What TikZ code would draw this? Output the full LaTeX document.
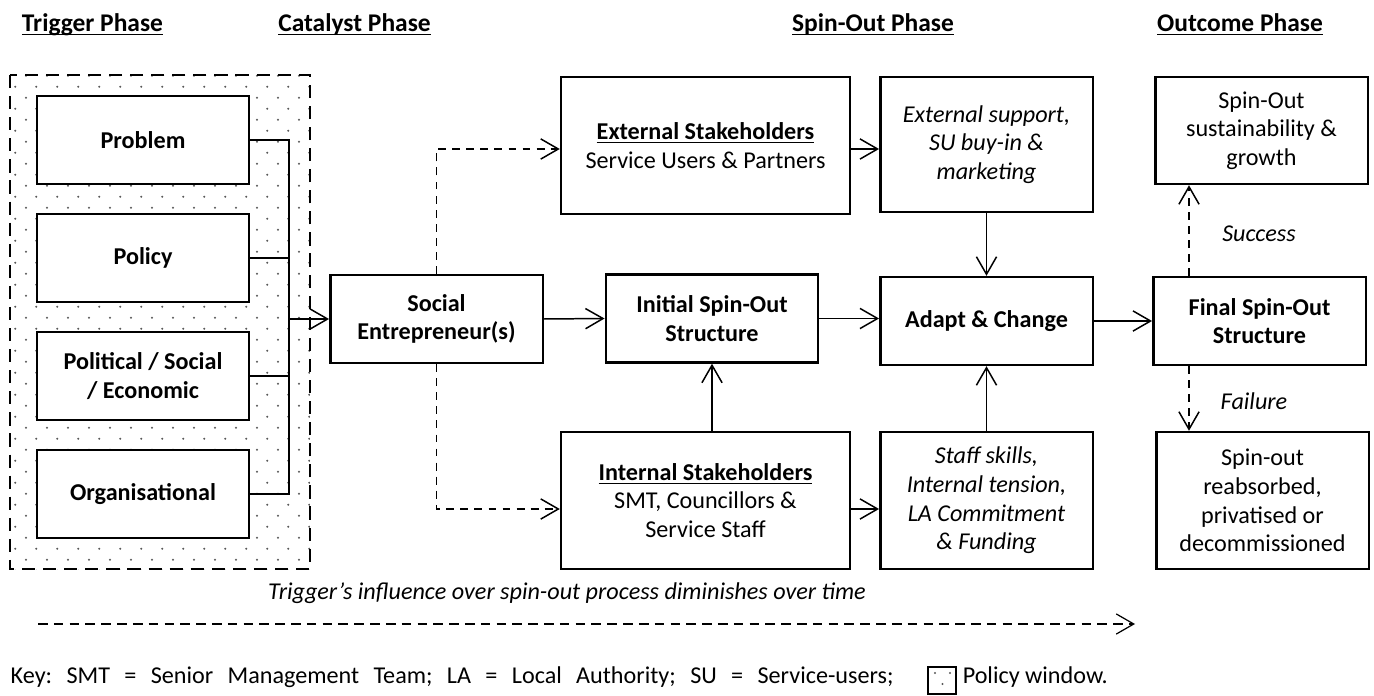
\documentclass[tikz,border=0pt]{standalone}
\usepackage{fontspec}
\setmainfont{Carlito}
\usetikzlibrary{arrows.meta}
\usetikzlibrary{calc,patterns}
\frenchspacing

% staggered dot grid for the policy window
\pgfdeclarepatternformonly{windowdots}{\pgfpointorigin}{\pgfpoint{12pt}{12.5pt}}{\pgfpoint{12pt}{12.5pt}}{%
  \pgfpathcircle{\pgfpoint{3pt}{3pt}}{0.65pt}%
  \pgfpathcircle{\pgfpoint{9pt}{9.25pt}}{0.65pt}%
  \pgfusepath{fill}}

\newcommand{\bodyfont}{\fontsize{13.75}{16.3}\selectfont}

\tikzset{
  phase/.style={anchor=base, font=\fontsize{14.5}{17}\selectfont\bfseries},
  box/.style={draw, line width=1.4pt, fill=white, align=center, inner sep=2pt, font=\bodyfont},
  small/.style={box, minimum width=4.25cm, minimum height=1.76cm},
  wide/.style={box, minimum width=5.78cm},
  bold/.style={font=\bodyfont\bfseries},
  note/.style={font=\bodyfont\itshape},
  maybe/.style={dash pattern=on 4.5pt off 3.5pt},
  window/.style={pattern=windowdots, pattern color=black!65},
}

\begin{document}
\begin{tikzpicture}[x=0.02cm, y=-0.02cm, line width=0.85pt,
  >={Straight Barb[length=10pt,width=11.5pt]}]
\useasboundingbox (0,0) rectangle (1374,696);

 % phase headings
 \node[phase] (trighead) at (92.5,32) {\underline{\smash{Trigger Phase}}};
 \node[phase] (cathead) at (354.5,32) {\underline{\smash{Catalyst Phase}}};
 \node[phase] (spinhead) at (873,32) {\underline{\smash{Spin-Out Phase}}};
 \node[phase] (outhead) at (1240,32) {\underline{\smash{Outcome Phase}}};

 % policy window round the triggers
 \fill[window] (10,75) rectangle (310,569);
 \draw[line width=1.7pt, dash pattern=on 7.5pt off 4.5pt] (10,75) rectangle (310,569);

 \node[small, bold] (problem) at (143,140) {Problem};
 \node[small, bold] (policy) at (143,258) {Policy};
 \node[small, bold] (political) at (143,376) {Political / Social\\/ Economic};
 \node[small, bold] (organisational) at (143,494) {Organisational};

 \coordinate (bus) at (289,0);
 \draw (problem.east) -- (problem.east -| bus) -- (organisational.east -| bus) -- (organisational.east);
 \draw (policy.east) -- (policy.east -| bus);
 \draw (political.east) -- (political.east -| bus);

 % catalyst
 \node[small, bold] (social) at (436.5,319) {Social\\Entrepreneur(s)};
 \draw[->] (social.west -| bus) -- (social.west);

 % spin-out
 \node[wide, minimum height=2.74cm] (external) at (705.5,145.5)
   {\underline{\textbf{External Stakeholders}}\\Service Users \& Partners};
 \node[small, bold] (initial) at (712,318.5) {Initial Spin-Out\\Structure};
 \node[wide, minimum height=2.74cm] (internal) at (705.5,500.5)
   {\underline{\textbf{Internal Stakeholders}}\\SMT, Councillors \&\\Service Staff};

 \node[small, minimum height=2.7cm, note] (support) at (986.5,144.5)
   {External support,\\SU buy-in \&\\marketing};
 \node[small, bold] (adapt) at (986.5,321) {Adapt \& Change};
 \node[small, minimum height=2.74cm, note] (staff) at (986.5,500.5)
   {Staff skills,\\Internal tension,\\LA Commitment\\\& Funding};

 \draw[->, maybe] (social.north) |- ($(external.west)+(0,3.5)$);
 \draw[->, maybe] (social.south) |- ($(internal.west)+(0,8.5)$);
 \draw[->] (social.east) -- (initial.west);
 \draw[->] (internal.north -| initial.south) -- (initial.south);
 \draw[->] ($(external.east)+(0,3.5)$) -- ($(support.west)+(0,4.5)$);
 \draw[->] ($(internal.east)+(0,8.5)$) -- ($(staff.west)+(0,8.5)$);
 \draw[->] (initial.east) -- (initial.east -| adapt.west);
 \draw[->] (support.south) -- (adapt.north);
 \draw[->] (staff.north) -- (adapt.south);

 % outcome
 \node[small, minimum height=2.14cm] (growth) at (1261.5,130.5)
   {Spin-Out\\sustainability \&\\growth};
 \node[small, bold] (final) at (1259.5,321) {Final Spin-Out\\Structure};
 \node[small, minimum height=2.74cm] (failed) at (1262.5,500.5)
   {Spin-out\\reabsorbed,\\privatised or\\decommissioned};

 \draw[->] (adapt.east) -- (final.west);
 \coordinate (fork) at (1189,0);
 \draw[->, maybe] (final.north -| fork) -- (growth.south -| fork);
 \draw[->, maybe] (final.south -| fork) -- (failed.north -| fork);
 \node[note] (success) at (1259,234) {Success};
 \node[note] (failure) at (1254,401) {Failure};

 % influence of the trigger over time
 \node[note] (influence) at (567,593) {Trigger’s influence over spin-out process diminishes over time};
 \coordinate (tstart) at (38,624);
 \coordinate (tend) at (1135,624);
 \draw[->, dash pattern=on 5.5pt off 3.5pt, line width=0.7pt] (tstart) -- (tend);

 % key
 \node[anchor=west, font=\bodyfont, inner sep=0pt] (key) at (10,677)
   {\makebox[17.66cm][s]{Key: SMT = Senior Management Team; LA = Local Authority; SU = Service-users;}};
 \node[draw, line width=1.2pt, minimum width=0.56cm, minimum height=0.54cm, inner sep=0pt] (keybox) at (942,680.5) {};
 \foreach \dot in {(935,673),(950,673),(942.5,684)}
   \fill[black!65] \dot circle (0.65pt);
 \node[anchor=west, font=\bodyfont, inner sep=0pt] (keywin) at (962,677) {Policy window.};

\end{tikzpicture}
\end{document}
